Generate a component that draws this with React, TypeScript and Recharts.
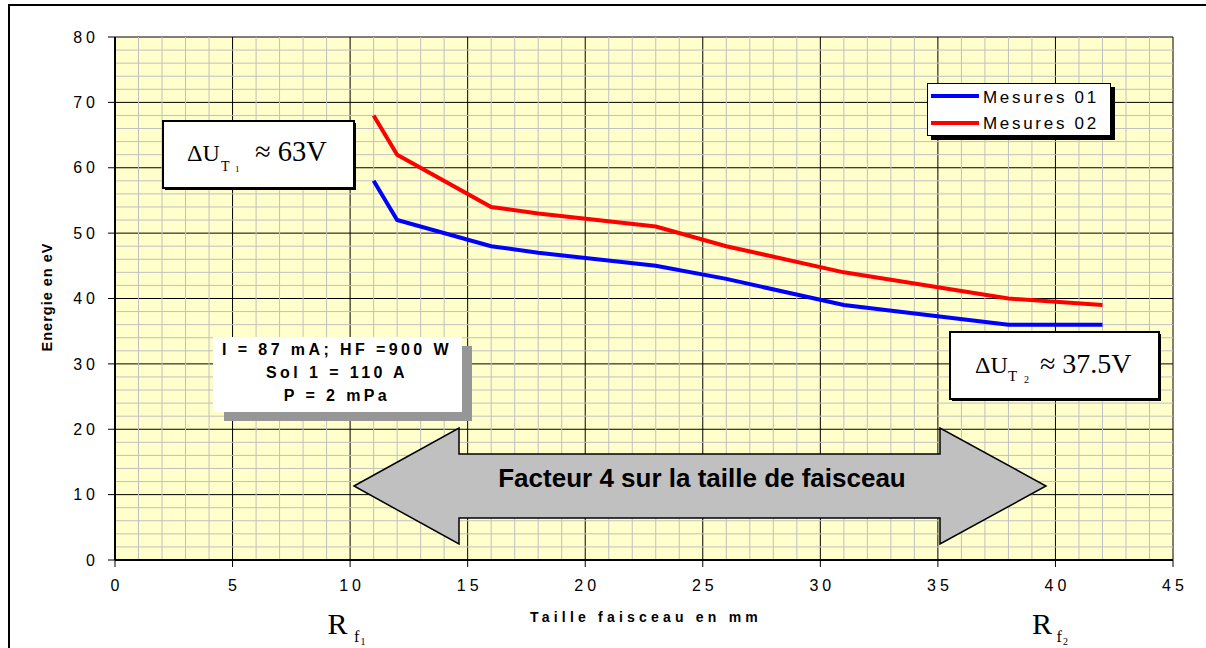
import React from 'react';
import { LineChart, Line, XAxis, YAxis, CartesianGrid, ReferenceLine, Legend } from 'recharts';

// ---- data ----
const xValues = [11, 12, 16, 18, 23, 26, 31, 38, 42];
const mesures01 = [58, 52, 48, 47, 45, 43, 39, 36, 36];
const mesures02 = [68, 62, 54, 53, 51, 48, 44, 40, 39];
const seriesNames = ['Mesures 01', 'Mesures 02'];
const seriesColors = ['#0000FF', '#FF0000'];
const xTicks = [0, 5, 10, 15, 20, 25, 30, 35, 40, 45];
const yTicks = [0, 10, 20, 30, 40, 50, 60, 70, 80];
const minorX = Array.from({ length: 44 }, (_, i) => i + 1).filter((v) => v % 5 !== 0);
const minorY = Array.from({ length: 39 }, (_, i) => (i + 1) * 2).filter((v) => v % 10 !== 0);

const data = xValues.map((x, i) => ({ x, m1: mesures01[i], m2: mesures02[i] }));

const sans = "'Liberation Sans', Arial, Helvetica, sans-serif";
const serif = "'Liberation Serif', 'Times New Roman', Times, serif";

const TICK_LS = 4;

const XTick = (props: any) => {
  const { x, y, payload } = props;
  return (
    <text x={x + TICK_LS / 2} y={y} dy="0.71em" textAnchor="middle" fontFamily={sans} fontSize={16} letterSpacing={TICK_LS} fill="#000">
      {payload.value}
    </text>
  );
};

const YTick = (props: any) => {
  const { x, y, payload } = props;
  return (
    <text x={x} y={y} dy="0.355em" textAnchor="end" fontFamily={sans} fontSize={16} letterSpacing={TICK_LS} fill="#000">
      {payload.value}
    </text>
  );
};

const LegendBox = (props: any) => {
  const payload = props.payload || [];
  return (
    <div style={{ position: 'relative', width: 188, height: 57 }}>
      <div style={{ position: 'absolute', left: 4, top: 4, width: 184, height: 53, background: '#000' }} />
      <div style={{ position: 'absolute', left: 0, top: 0, width: 182, height: 51, background: '#fff', border: '1px solid #000' }}>
        {payload.map((p: any, i: number) => (
          <div key={p.value} style={{ position: 'absolute', left: 3, top: 4 + i * 25.5, height: 20, display: 'flex', alignItems: 'center' }}>
            <span style={{ display: 'inline-block', width: 48, height: 4, background: p.color, marginRight: 4, marginTop: -4 + i * 2 }} />
            <span style={{ fontFamily: sans, fontSize: 17, lineHeight: '20px', letterSpacing: 2.7, color: '#000', whiteSpace: 'nowrap' }}>{p.value}</span>
          </div>
        ))}
      </div>
    </div>
  );
};

export default function App() {
  return (
    <div style={{ position: 'relative', width: 1206, height: 648, background: '#fff', fontFamily: sans }}>
      <style>{`body{margin:0;background:#fff}`}</style>
      <LineChart width={1206} height={648} data={data} margin={{ top: 37, right: 33, bottom: 0, left: 0 }}>
        <CartesianGrid fill="#FFFFCC" stroke="#000" strokeWidth={1} />
        {minorX.map((v) => (
          <ReferenceLine key={'mx' + v} x={v} stroke="#C0C0C0" strokeWidth={1} zIndex={-50} />
        ))}
        {minorY.map((v) => (
          <ReferenceLine key={'my' + v} y={v} stroke="#C0C0C0" strokeWidth={1} zIndex={-50} />
        ))}
        <XAxis
          type="number"
          dataKey="x"
          domain={[0, 45]}
          ticks={xTicks}
          interval={0}
          height={88}
          tickSize={7}
          tickMargin={13}
          axisLine={{ stroke: '#000', strokeWidth: 2 }}
          tickLine={{ stroke: '#000', strokeWidth: 1 }}
          tick={XTick}
        />
        <YAxis
          type="number"
          domain={[0, 80]}
          ticks={yTicks}
          interval={0}
          width={115}
          tickSize={7}
          tickMargin={9}
          axisLine={{ stroke: '#000', strokeWidth: 2 }}
          tickLine={{ stroke: '#000', strokeWidth: 1 }}
          tick={YTick}
        />
        <Line type="linear" dataKey="m1" name={seriesNames[0]} stroke={seriesColors[0]} strokeWidth={4} dot={false} activeDot={false} isAnimationActive={false} />
        <Line type="linear" dataKey="m2" name={seriesNames[1]} stroke={seriesColors[1]} strokeWidth={4} dot={false} activeDot={false} isAnimationActive={false} />
        <Legend
          layout="vertical"
          align="center"
          verticalAlign="middle"
          content={LegendBox}
          wrapperStyle={{ left: 927, top: 83, width: 190, height: 58 }}
        />
      </LineChart>

      <svg width={1206} height={648} style={{ position: 'absolute', left: 0, top: 0, pointerEvents: 'none' }}>
        {/* outer frame */}
        <rect x={9} y={5} width={1400} height={900} fill="none" stroke="#000" strokeWidth={2} />

        {/* axis titles */}
        <text transform="translate(47,297) rotate(-90)" textAnchor="middle" dominantBaseline="central" fontFamily={sans} fontWeight="bold" fontSize={14.5} letterSpacing={1} fill="#000">
          Energie en eV
        </text>
        <text x={646} y={622} textAnchor="middle" fontFamily={sans} fontWeight="bold" fontSize={14} letterSpacing={4.2} fill="#000">
          Taille faisceau en mm
        </text>

        {/* R_f1 */}
        <text fontFamily={serif} fill="#000">
          <tspan x={327.5} y={634} fontSize={30}>R</tspan>
          <tspan x={354} y={642} fontSize={16}>f</tspan>
          <tspan x={360.5} y={645} fontSize={10}>1</tspan>
        </text>
        {/* R_f2 */}
        <text fontFamily={serif} fill="#000">
          <tspan x={1032} y={634} fontSize={30}>R</tspan>
          <tspan x={1056.5} y={642} fontSize={16}>f</tspan>
          <tspan x={1063} y={645} fontSize={10}>2</tspan>
        </text>

        {/* Delta U T1 box */}
        <rect x={165} y={123} width={191} height={67} fill="#000" />
        <rect x={163} y={121} width={191} height={67} fill="#fff" stroke="#000" strokeWidth={2} />
        <text fontFamily={serif} fill="#000">
          <tspan x={187} y={161} fontSize={24}>ΔU</tspan>
          <tspan x={221} y={171} fontSize={14}>T</tspan>
          <tspan x={235} y={172} fontSize={9}>1</tspan>
          <tspan x={255} y={161} fontSize={28.5}>≈ 63V</tspan>
        </text>

        {/* Delta U T2 box */}
        <rect x={952} y={334} width={209} height={67} fill="#000" />
        <rect x={950} y={332} width={209} height={67} fill="#fff" stroke="#000" strokeWidth={2} />
        <text fontFamily={serif} fill="#000">
          <tspan x={975} y={373} fontSize={24}>ΔU</tspan>
          <tspan x={1008} y={381} fontSize={15}>T</tspan>
          <tspan x={1024} y={383} fontSize={10}>2</tspan>
          <tspan x={1040} y={373} fontSize={28}>≈ 37.5V</tspan>
        </text>

        {/* info box */}
        <rect x={224} y={346} width={248} height={75} fill="#969696" />
        <rect x={213} y={337} width={249} height={75} fill="#fff" />
        <g fontFamily={sans} fontWeight="bold" fontSize={16} letterSpacing={3.4} fill="#000" textAnchor="middle">
          <text x={337} y={354.7}>I = 87 mA; HF =900 W</text>
          <text x={337} y={378.4}>Sol 1 = 110 A</text>
          <text x={337} y={400.7}>P = 2 mPa</text>
        </g>

        {/* double arrow */}
        <polygon
          points="354,486 459,428 459,454 940,454 940,428 1046,486 940,544 940,518 459,518 459,544"
          fill="#C0C0C0"
          stroke="#000"
          strokeWidth={1.5}
          strokeLinejoin="miter"
        />
        <text x={702} y={487} textAnchor="middle" fontFamily={sans} fontWeight="bold" fontSize={26} fill="#000">
          Facteur 4 sur la taille de faisceau
        </text>
      </svg>
    </div>
  );
}
